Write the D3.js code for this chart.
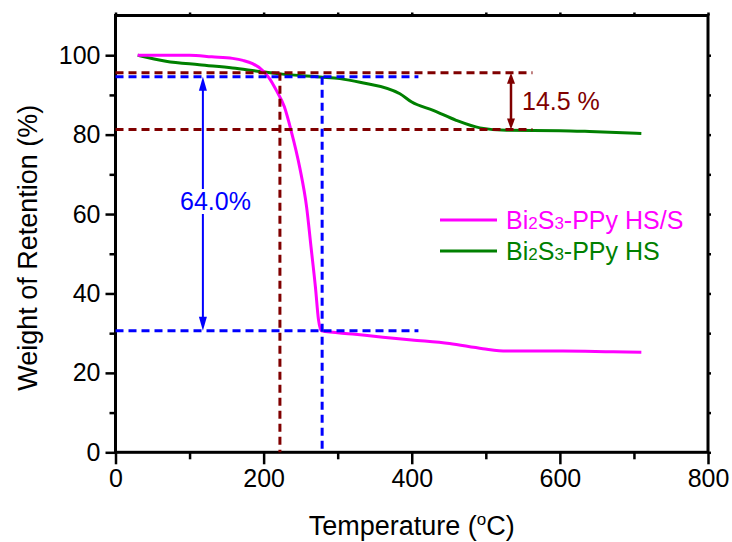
<!DOCTYPE html>
<html>
<head>
<meta charset="utf-8">
<script src="https://cdn.jsdelivr.net/npm/d3@7"></script>
<style>
  html, body { margin: 0; padding: 0; background: #fff; }
  svg text { font-family: "Liberation Sans", Arial, Helvetica, sans-serif; }
</style>
</head>
<body>
<svg id="chart" width="732" height="542"></svg>
<script>
// ---------- data ----------
const xTicks = [0, 200, 400, 600, 800];
const xMinorTicks = [100, 300, 500, 700];
const yTicks = [0, 20, 40, 60, 80, 100];
const yMinorTicks = [10, 30, 50, 70, 90];

// Bi2S3-PPy HS/S (magenta)
const tempHSS = [30, 60, 100, 130, 158, 172, 185, 199, 208, 217, 228, 237, 249, 258, 264, 270, 274, 278, 320, 361, 400, 451, 496, 528, 604, 672, 710];
const wHSS    = [100, 100, 100, 99.6, 99.2, 98.7, 97.9, 96.1, 94.1, 91.2, 87.0, 81.1, 71.5, 61.8, 51.7, 41.5, 33.5, 30.6, 29.8, 29.0, 28.3, 27.4, 26.1, 25.5, 25.5, 25.3, 25.2];

// Bi2S3-PPy HS (green)
const tempHS = [30, 68, 113, 158, 195, 222, 276, 303, 330, 384, 400, 429, 460, 492, 528, 600, 640, 710];
const wHS    = [100, 98.5, 97.6, 96.8, 95.9, 95.3, 94.5, 94.1, 93.2, 90.3, 88.2, 86.1, 83.6, 81.7, 81.1, 81.0, 80.8, 80.3];

// reference (dashed) levels and onset temperatures
const redLevels = [95.6, 81.3];      // HS: start / end weight
const redLevelEnd = 563;
const blueLevels = [94.6, 30.6];     // HS/S: start / end weight
const blueLevelEnd = 409;
const redOnset = 222;
const blueOnset = 279;
const blueArrowX = 118;
const redArrowX = 534;
const blueLabel = "64.0%";
const redLabel = "14.5 %";

const seriesNames = ["Bi2S3-PPy HS/S", "Bi2S3-PPy HS"];
const seriesColors = ["#ff00ff", "#008000"];
const darkRed = "#800000";
const blue = "#0000ff";

// ---------- scales ----------
const svg = d3.select("#chart");
const x = d3.scaleLinear().domain([0, 800]).range([115.5, 708]);
const y = d3.scaleLinear().domain([0, 110]).range([452.3, 15.5]);
const fontFam = '"Liberation Sans", Arial, sans-serif';

// ---------- axes ----------
function styleAxis(g) {
  g.select(".domain").remove();
  g.selectAll(".tick line").attr("stroke", "#000").attr("stroke-width", 2.5);
  g.selectAll(".tick text").attr("fill", "#000").attr("font-size", 25).attr("font-family", fontFam);
}
svg.append("g").attr("transform", `translate(0,${y(0)})`)
  .call(d3.axisBottom(x).tickValues(xTicks).tickSize(12).tickPadding(5).tickFormat(d3.format("d")))
  .call(styleAxis);
svg.append("g").attr("transform", `translate(0,${y(0)})`)
  .call(d3.axisBottom(x).tickValues(xMinorTicks).tickSize(7).tickFormat(""))
  .call(styleAxis);
svg.append("g").attr("transform", `translate(${x(0)},0)`)
  .call(d3.axisLeft(y).tickValues(yTicks).tickSize(10).tickPadding(5).tickFormat(d3.format("d")))
  .call(styleAxis);
svg.append("g").attr("transform", `translate(${x(0)},0)`)
  .call(d3.axisLeft(y).tickValues(yMinorTicks).tickSize(6).tickFormat(""))
  .call(styleAxis);
// mirrored tiny ticks on top / right
svg.append("g").attr("transform", `translate(${x(800)},0)`)
  .call(d3.axisRight(y).tickValues(yTicks.concat(yMinorTicks)).tickSize(3).tickFormat(""))
  .call(styleAxis);
svg.append("g").attr("transform", `translate(0,${y(110)})`)
  .call(d3.axisTop(x).tickValues(xTicks.concat(xMinorTicks)).tickSize(3).tickFormat(""))
  .call(styleAxis);

// frame
svg.append("rect")
  .attr("x", x(0)).attr("y", y(110))
  .attr("width", x(800) - x(0)).attr("height", y(0) - y(110))
  .attr("fill", "none").attr("stroke", "#000").attr("stroke-width", 3);

// axis titles
const xt = svg.append("text").attr("x", (x(0) + x(800)) / 2).attr("y", 535)
  .attr("text-anchor", "middle").attr("font-size", 27).attr("fill", "#000");
xt.append("tspan").text("Temperature (");
xt.append("tspan").text("o").attr("font-size", 17).attr("dy", -10);
xt.append("tspan").text("C)").attr("dy", 10);

svg.append("text")
  .attr("transform", `translate(37,${(y(0) + y(100)) / 2 - 6}) rotate(-90)`)
  .attr("text-anchor", "middle").attr("font-size", 27).attr("fill", "#000")
  .text("Weight of Retention (%)");

// ---------- curves ----------
const line = d3.line().x(d => x(d[0])).y(d => y(d[1])).curve(d3.curveMonotoneX);
const hss = tempHSS.map((t, i) => [t, wHSS[i]]);
const hs = tempHS.map((t, i) => [t, wHS[i]]);
svg.append("path").datum(hs).attr("d", line).attr("fill", "none")
  .attr("stroke", seriesColors[1]).attr("stroke-width", 3);
svg.append("path").datum(hss).attr("d", line).attr("fill", "none")
  .attr("stroke", seriesColors[0]).attr("stroke-width", 3);

// ---------- dashed reference lines ----------
function dash(x1, y1, x2, y2, color) {
  svg.append("line")
    .attr("x1", x(x1)).attr("y1", y(y1)).attr("x2", x(x2)).attr("y2", y(y2))
    .attr("stroke", color).attr("stroke-width", 3).attr("stroke-dasharray", "8,5");
}
redLevels.forEach(v => dash(0, v, redLevelEnd, v, darkRed));
blueLevels.forEach(v => dash(0, v, blueLevelEnd, v, blue));
dash(redOnset, redLevels[0], redOnset, 0, darkRed);
dash(blueOnset, blueLevels[0], blueOnset, 0, blue);

// ---------- double arrows ----------
function doubleArrow(xv, v1, v2, color, headLen, headHalf, width) {
  const px = x(xv), yTop = y(v1), yBot = y(v2);
  const g = svg.append("g");
  g.append("line").attr("x1", px).attr("x2", px)
    .attr("y1", yTop + headLen - 1).attr("y2", yBot - headLen + 1)
    .attr("stroke", color).attr("stroke-width", width);
  g.append("path").attr("fill", color)
    .attr("d", `M${px},${yTop} L${px - headHalf},${yTop + headLen} L${px + headHalf},${yTop + headLen} Z`);
  g.append("path").attr("fill", color)
    .attr("d", `M${px},${yBot} L${px - headHalf},${yBot - headLen} L${px + headHalf},${yBot - headLen} Z`);
  return g;
}
doubleArrow(blueArrowX, blueLevels[0], blueLevels[1], blue, 14, 4, 2);
doubleArrow(redArrowX, redLevels[0], redLevels[1], darkRed, 11, 4, 2.5);

// labels
const bl = svg.append("text").attr("x", 180).attr("y", 210)
  .attr("font-size", 25).attr("fill", blue).text(blueLabel);
const bb = bl.node().getBBox();
svg.insert("rect", () => bl.node())
  .attr("x", x(blueArrowX) - 4).attr("y", bb.y + 2).attr("width", 8).attr("height", bb.height - 3)
  .attr("fill", "#fff");
svg.append("text").attr("x", 522).attr("y", 110)
  .attr("font-size", 25).attr("fill", darkRed).text(redLabel);

// ---------- legend ----------
const legendY = [220, 251];
seriesNames.forEach((name, i) => {
  svg.append("line").attr("x1", 440).attr("x2", 497)
    .attr("y1", legendY[i]).attr("y2", legendY[i])
    .attr("stroke", seriesColors[i]).attr("stroke-width", 3);
  const t = svg.append("text").attr("x", 506).attr("y", legendY[i] + 9)
    .attr("font-size", 25).attr("fill", seriesColors[i]);
  const m = name.match(/^(Bi)(2)(S)(3)(.*)$/);
  t.append("tspan").text(m[1]);
  t.append("tspan").text(m[2]).attr("font-size", 17);
  t.append("tspan").text(m[3]);
  t.append("tspan").text(m[4]).attr("font-size", 17);
  t.append("tspan").text(m[5]);
});
</script>
</body>
</html>
